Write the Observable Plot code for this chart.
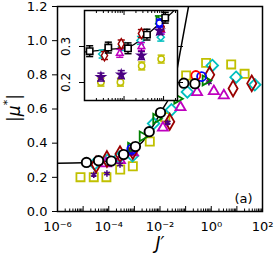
<!DOCTYPE html>
<html><head><meta charset="utf-8">
<script src="https://cdn.jsdelivr.net/npm/d3@7"></script>
<script src="https://cdn.jsdelivr.net/npm/@observablehq/plot@0.6"></script>
<style>
html,body{margin:0;padding:0;background:#fff;}
#wrap{position:relative;width:275px;height:262px;overflow:hidden;}
#wrap svg{position:absolute;left:0;top:0;}
</style></head><body><div id="wrap"></div>
<script>
// ---- data (J' values and |mu*| values) ----
const blackJ   = [1.35e-5, 4.0e-5, 1.26e-4, 3.8e-4, 1.1e-3, 3.8e-3, 1.05e-2, 8.5e-2, 0.23];
const blackMu  = [0.287, 0.297, 0.295, 0.333, 0.380, 0.467, 0.579, 0.751, 0.748];
const yellowJ  = [7.9e-6, 2.6e-5, 8.1e-5, 2.8e-4, 8.7e-4, 4.0e-3, 1.6e-2, 0.105, 0.63, 6.0, 20];
const yellowMu = [0.201, 0.201, 0.201, 0.246, 0.265, 0.410, 0.552, 0.796, 0.870, 0.861, 0.806];
const cyanJ    = [2.8e-5, 8.9e-5, 2.6e-4, 8.5e-4, 5.6e-3, 2.8e-2, 0.117, 1.1, 9.3, 50];
const cyanMu   = [0.279, 0.300, 0.317, 0.326, 0.515, 0.595, 0.700, 0.855, 0.786, 0.742];
const magentaJ = [7.8e-5, 2.75e-4, 8.7e-4, 1.3e-2, 6.3e-2, 0.28, 1.26, 3.1];
const magentaMu= [0.281, 0.300, 0.345, 0.490, 0.610, 0.698, 0.704, 0.679];
const maroonJ  = [3.2e-5, 8.5e-5, 2.75e-4, 8.7e-4, 2.4e-2, 0.87, 7.1, 38];
const maroonMu = [0.275, 0.307, 0.336, 0.354, 0.525, 0.800, 0.720, 0.750];
const purpleJ  = [2.6e-5, 8.5e-5, 2.75e-4, 7.9e-4, 2.0e-2, 0.81];
const purpleMu = [0.215, 0.222, 0.275, 0.344, 0.520, 0.757];
const greenJ   = [7.4e-4, 2.1e-3, 7.1e-3, 4.7e-2, 0.60];
const greenMu  = [0.374, 0.440, 0.543, 0.660, 0.767];
const blueJ    = [7.9e-4, 0.42];
const blueMu   = [0.365, 0.790];
const redJ     = [0.25];
const redMu    = [0.796];
// theory curve
const curveJ   = [1e-6, 1e-5, 1.35e-5, 4.0e-5, 1.26e-4, 3.8e-4, 1.1e-3, 2.0e-3, 3.8e-3, 1.05e-2, 3.8e-2, 6.3e-2, 0.13];
const curveMu  = [0.283, 0.285, 0.286, 0.292, 0.298, 0.333, 0.378, 0.405, 0.465, 0.579, 0.767, 0.943, 1.2];
// inset error half-widths
const blackErr = 0.015, otherErr = 0.011;
// ticks
const yTicks = [0, 0.2, 0.4, 0.6, 0.8, 1.0, 1.2];
const xLabelTicks = [1e-6, 1e-4, 1e-2, 1, 1e2];
const insetYTicks = [0.2, 0.3];

const rows = (J, M) => J.map((x, i) => ({J: x, mu: M[i]}));

const triRight = {draw(ctx, size) { const s = Math.sqrt(size) * 0.6; ctx.moveTo(s * 1.15, 0); ctx.lineTo(-s * 0.6, -s); ctx.lineTo(-s * 0.6, s); ctx.closePath(); }};
const capSym = {draw(ctx, size) { const w = Math.sqrt(size) / 2; ctx.moveTo(-w, 0); ctx.lineTo(w, 0); }};

const series = [
  {J: yellowJ,  mu: yellowMu,  color: "#c0c000", sym: "square",   r: 4.6, isym: "circle"},
  {J: cyanJ,    mu: cyanMu,    color: "#00bfbf", sym: "diamond2", r: 5.2, isym: "diamond2"},
  {J: magentaJ, mu: magentaMu, color: "#bf00bf", sym: "triangle2",r: 4.8, isym: "triangle2"},
  {J: maroonJ,  mu: maroonMu,  color: "#990000", sym: "diamond",  r: 4.8, isym: "diamond"},
  {J: purpleJ,  mu: purpleMu,  color: "#4b0082", sym: "asterisk", r: 3.0, isym: "star", filled: true},
  {J: greenJ,   mu: greenMu,   color: "#008000", sym: triRight,   r: 4.6, isym: triRight},
  {J: blueJ,    mu: blueMu,    color: "#0000ff", sym: "circle",   r: 4.5, isym: "circle"},
  {J: redJ,     mu: redMu,     color: "#ff0000", sym: "circle",   r: 4.5, isym: "circle"},
];

function logTicks(lo, hi) {
  const major = [], minor = [];
  for (let e = Math.floor(Math.log10(lo)); e <= Math.ceil(Math.log10(hi)); e++) {
    const b = Math.pow(10, e);
    if (b >= lo * 0.999 && b <= hi * 1.001) major.push(b);
    for (let m = 2; m <= 9; m++) { const v = m * b; if (v >= lo && v <= hi) minor.push(v); }
  }
  return {major, minor};
}
const supMap = {"-": "⁻", "0": "⁰", "1": "¹", "2": "²", "3": "³", "4": "⁴", "5": "⁵", "6": "⁶", "7": "⁷", "8": "⁸", "9": "⁹"};
const sup = d => "10" + String(Math.round(Math.log10(d))).split("").map(c => supMap[c]).join("");

const curve = rows(curveJ, curveMu);
const blackRows = rows(blackJ, blackMu);

// ---------- main plot ----------
const mx = logTicks(1e-6, 1e2);
const mainMarks = [
  Plot.axisY({ticks: yTicks, tickSize: 5, tickPadding: 5, tickFormat: d => d.toFixed(1), label: null, fontSize: 13}),
  Plot.axisX({ticks: mx.major, tickSize: 5, dy: -5, fill: "none", label: null}),
  Plot.axisX({ticks: mx.minor, tickSize: 2.5, dy: -2.5, fill: "none", label: null}),
  Plot.axisX({ticks: xLabelTicks, tickSize: 0, tickPadding: 10, tickFormat: sup, label: null, fontSize: 13}),
  Plot.line(curve, {x: "J", y: "mu", stroke: "black", strokeWidth: 1.5, curve: "monotone-x", clip: true}),
];
for (const s of series) {
  mainMarks.push(Plot.dot(rows(s.J, s.mu), {x: "J", y: "mu", symbol: s.sym, r: s.r,
    stroke: s.color, strokeWidth: s.sym === "asterisk" ? 1.6 : 1.8, fill: "none"}));
}
mainMarks.push(Plot.dot(blackRows, {x: "J", y: "mu", symbol: "circle", r: 4.7, stroke: "black", strokeWidth: 1.9, fill: "white"}));
mainMarks.push(Plot.frame({stroke: "black", strokeWidth: 1.5}));
mainMarks.push(Plot.text(["J′"], {frameAnchor: "bottom", dy: 37, fontStyle: "italic", fontSize: 17, fill: "black"}));
mainMarks.push(Plot.text(["(a)"], {frameAnchor: "bottom-right", dx: -19, dy: -9, fontSize: 13, textAnchor: "middle", fill: "black"}));

const main = Plot.plot({
  width: 275, height: 262,
  marginLeft: 57, marginRight: 13, marginTop: 6, marginBottom: 51,
  x: {type: "log", domain: [1e-6, 1e2]},
  y: {domain: [0, 1.2]},
  style: {fontFamily: "DejaVu Sans", fontSize: "13px", color: "black", background: "white"},
  marks: mainMarks
});

// y label |mu*|
const yl = d3.select(main).append("text")
  .attr("transform", "translate(15,108) rotate(-90)")
  .attr("text-anchor", "middle").attr("dominant-baseline", "middle")
  .attr("font-family", "DejaVu Sans").attr("font-size", 17).attr("fill", "black");
yl.append("tspan").text("|");
yl.append("tspan").attr("font-style", "italic").text("μ");
yl.append("tspan").attr("font-size", 11).attr("dy", -7).text("*");
yl.append("tspan").attr("dy", 7).text("|");

// ---------- inset ----------
const ix = logTicks(1e-5, 2.25e-3);
const inJ = [1e-5, 2.25e-3], inMu = [0.15, 0.40];
const inside = r => r.J >= inJ[0] && r.J <= inJ[1] && r.mu >= inMu[0] && r.mu <= inMu[1];
const insetMarks = [
  Plot.frame({fill: "white"}),
  Plot.axisY({ticks: insetYTicks, tickSize: 5, fill: "none", label: null}),
  Plot.axisY({anchor: "right", ticks: insetYTicks, tickSize: 5, fill: "none", label: null}),
  Plot.text(insetYTicks, {y: d => d, text: d => d.toFixed(1), frameAnchor: "left", dx: -18, rotate: -90, fontSize: 12, textAnchor: "middle", lineAnchor: "middle", fill: "black"}),
  Plot.axisX({anchor: "bottom", ticks: ix.major, tickSize: 4, dy: -4, fill: "none", label: null}),
  Plot.axisX({anchor: "bottom", ticks: ix.minor, tickSize: 2, dy: -2, fill: "none", label: null}),
  Plot.axisX({anchor: "top", ticks: ix.major, tickSize: 4, dy: 4, fill: "none", label: null}),
  Plot.axisX({anchor: "top", ticks: ix.minor, tickSize: 2, dy: 2, fill: "none", label: null}),
  Plot.line(curve, {x: "J", y: "mu", stroke: "black", strokeWidth: 1.3, curve: "monotone-x", clip: true}),
];
function errMarks(data, color, e, sym, r, fill, sw) {
  const d = data.filter(inside);
  return [
    Plot.ruleX(d, {x: "J", y1: q => q.mu - e, y2: q => q.mu + e, stroke: color, strokeWidth: 1.5}),
    Plot.dot(d, {x: "J", y: q => q.mu - e, symbol: capSym, r: 4, stroke: color, strokeWidth: 1.5, fill: "none"}),
    Plot.dot(d, {x: "J", y: q => q.mu + e, symbol: capSym, r: 4, stroke: color, strokeWidth: 1.5, fill: "none"}),
    Plot.dot(d, {x: "J", y: "mu", symbol: sym, r: r, stroke: color, strokeWidth: sw, fill: fill}),
  ];
}
for (const s of series) insetMarks.push(...errMarks(rows(s.J, s.mu), s.color, otherErr, s.isym, s.filled ? 2.6 : 3.2, s.filled ? s.color : "white", 1.5));
insetMarks.push(...errMarks(blackRows, "black", blackErr, "square", 3.6, "white", 1.6));
insetMarks.push(Plot.frame({stroke: "black", strokeWidth: 1.5}));

const inset = Plot.plot({
  width: 275, height: 262,
  marginLeft: 84, marginRight: 98, marginTop: 10, marginBottom: 162,
  x: {type: "log", domain: inJ},
  y: {domain: inMu},
  style: {fontFamily: "DejaVu Sans", fontSize: "12px", color: "black", background: "transparent"},
  marks: insetMarks
});
inset.style.background = "none";
inset.style.pointerEvents = "none";

const wrap = document.getElementById("wrap");
wrap.appendChild(main);
wrap.appendChild(inset);
</script></body></html>
